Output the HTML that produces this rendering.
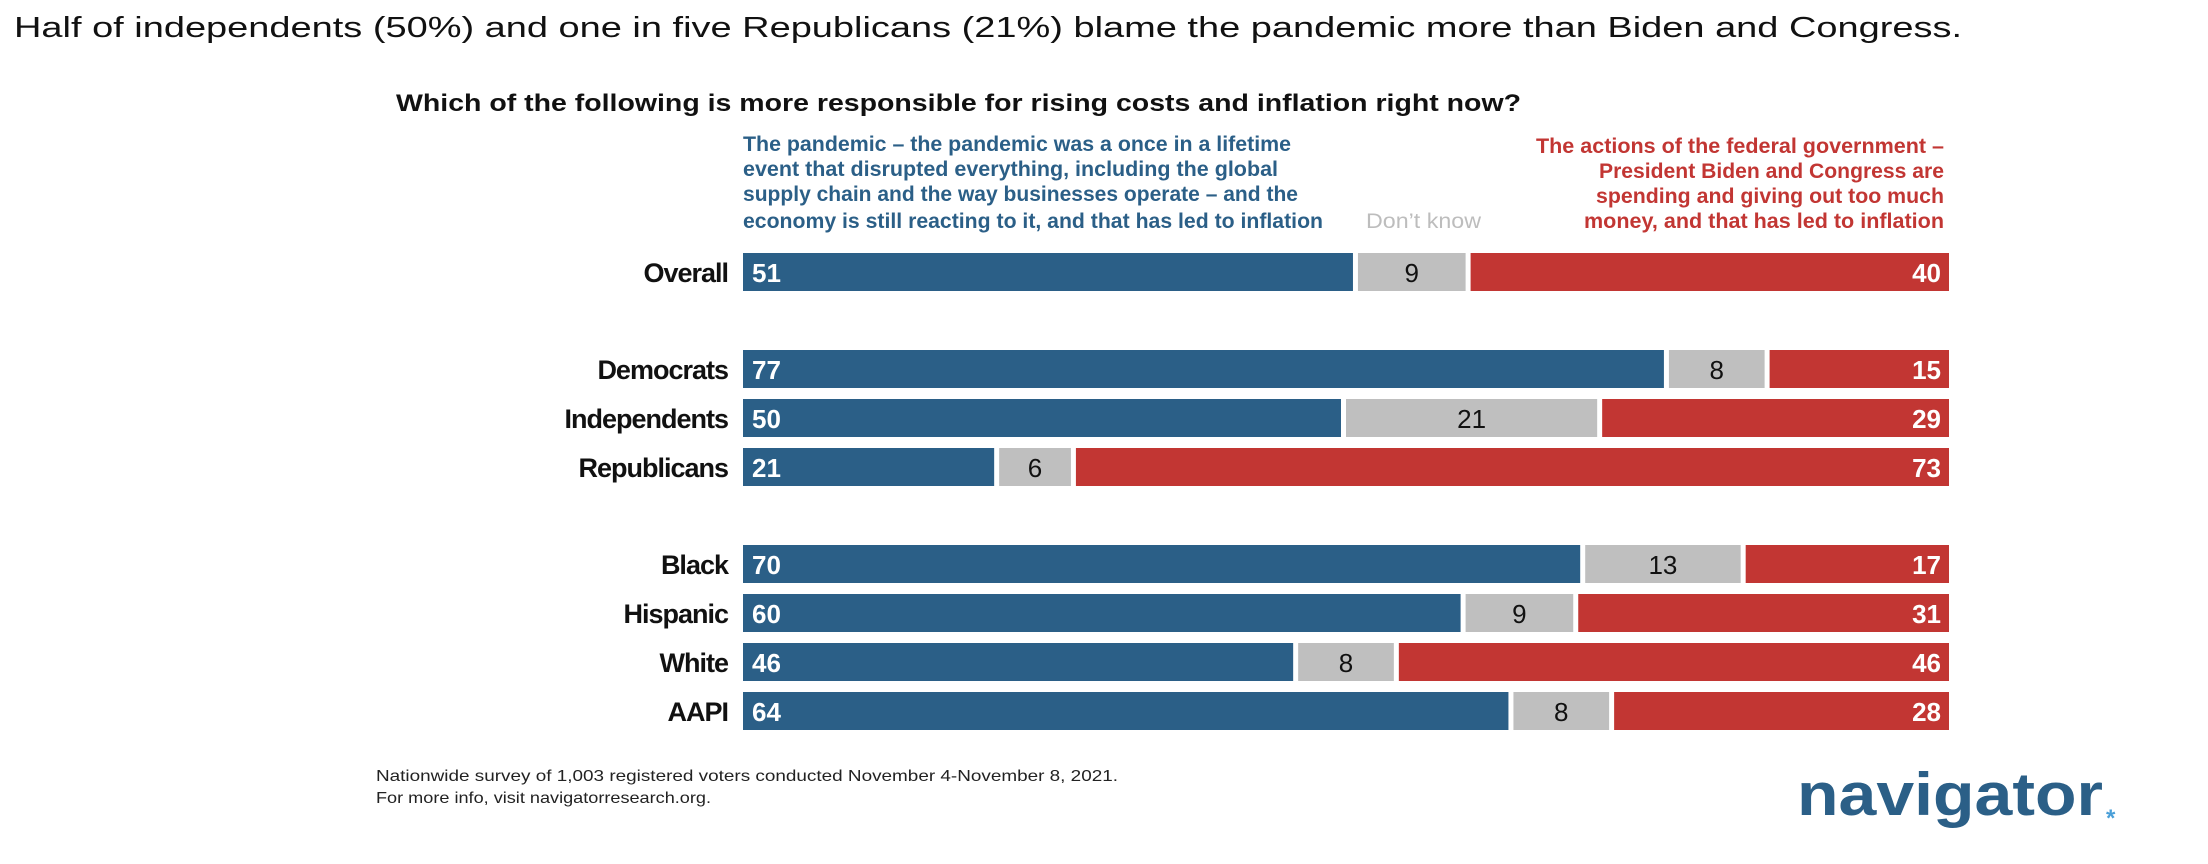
<!DOCTYPE html>
<html><head><meta charset="utf-8"><style>
html,body{margin:0;padding:0;background:#fff;}
svg{display:block;font-family:"Liberation Sans",sans-serif;}
</style></head><body>
<svg id="chart" width="2208" height="864" viewBox="0 0 2208 864">
<text x="14" y="37" font-size="29" fill="#111" textLength="1948" lengthAdjust="spacingAndGlyphs">Half of independents (50%) and one in five Republicans (21%) blame the pandemic more than Biden and Congress.</text>
<text x="396" y="111" font-size="24" font-weight="bold" fill="#111" textLength="1125" lengthAdjust="spacingAndGlyphs">Which of the following is more responsible for rising costs and inflation right now?</text>
<g fill="#2b5f87" font-size="21" font-weight="bold">
<text x="743" y="151" textLength="548" lengthAdjust="spacingAndGlyphs">The pandemic – the pandemic was a once in a lifetime</text>
<text x="743" y="176" textLength="535" lengthAdjust="spacingAndGlyphs">event that disrupted everything, including the global</text>
<text x="743" y="201" textLength="555" lengthAdjust="spacingAndGlyphs">supply chain and the way businesses operate – and the</text>
<text x="743" y="228" textLength="580" lengthAdjust="spacingAndGlyphs">economy is still reacting to it, and that has led to inflation</text>
</g>
<text x="1366" y="228" font-size="21" fill="#bdbdbd" textLength="115" lengthAdjust="spacingAndGlyphs">Don’t know</text>
<g fill="#c23633" font-size="21" font-weight="bold" text-anchor="end">
<text x="1944" y="153" textLength="408" lengthAdjust="spacingAndGlyphs">The actions of the federal government –</text>
<text x="1944" y="178" textLength="345" lengthAdjust="spacingAndGlyphs">President Biden and Congress are</text>
<text x="1944" y="203" textLength="348" lengthAdjust="spacingAndGlyphs">spending and giving out too much</text>
<text x="1944" y="228" textLength="360" lengthAdjust="spacingAndGlyphs">money, and that has led to inflation</text>
</g>
<g id="bars"></g>
<g fill="#222" font-size="16">
<text x="376" y="781" textLength="742" lengthAdjust="spacingAndGlyphs">Nationwide survey of 1,003 registered voters conducted November 4-November 8, 2021.</text>
<text x="376" y="803" textLength="335" lengthAdjust="spacingAndGlyphs">For more info, visit navigatorresearch.org.</text>
</g>
<text x="1797" y="815" font-size="60" font-weight="bold" fill="#2b5f87" textLength="306" lengthAdjust="spacingAndGlyphs">navigator</text>
<text x="2106" y="826" font-size="24" font-weight="bold" fill="#4a9fd8">*</text>
</svg>
<script>
const categories = ["Overall","Democrats","Independents","Republicans","Black","Hispanic","White","AAPI"];
const pandemicValues = [51,77,50,21,70,60,46,64];
const dontKnowValues = [9,8,21,6,13,9,8,8];
const governmentValues = [40,15,29,73,17,31,46,28];
const rowTops = [253,350,399,448,545,594,643,692];
const NS="http://www.w3.org/2000/svg";
const x0=743, x1=1949, gap=5, barH=38;
const unit=(x1-x0-2*gap)/100;
const xs=v=>v*unit;
const g=document.getElementById('bars');
function mk(tag,attrs){const e=document.createElementNS(NS,tag);for(const k in attrs)e.setAttribute(k,attrs[k]);g.appendChild(e);return e;}
categories.forEach((c,i)=>{
  const y=rowTops[i];
  const lab=mk('text',{x:728,y:y+29,'font-size':27,'font-weight':'bold','text-anchor':'end',fill:'#111','letter-spacing':'-1'});
  lab.textContent=c;
  
  
  const wb=xs(pandemicValues[i]), wg=xs(dontKnowValues[i]);
  const b=mk('rect',{x:x0,y:y,width:wb,height:barH,fill:'#2b5f87'});
  
  
  const gx=x0+wb+gap;
  const gr=mk('rect',{x:gx,y:y,width:wg,height:barH,fill:'#bfbfbf'});
  
  
  const rx=gx+wg+gap;
  const r=mk('rect',{x:rx,y:y,width:x1-rx,height:barH,fill:'#c23633'});
  
  
  const t1=mk('text',{x:x0+9,y:y+29,'font-size':26,'font-weight':'bold',fill:'#fff'});
  t1.textContent=pandemicValues[i];
  
  
  const t2=mk('text',{x:gx+wg/2,y:y+29,'font-size':26,'text-anchor':'middle',fill:'#111'});
  t2.textContent=dontKnowValues[i];
  
  
  const t3=mk('text',{x:x1-8,y:y+29,'font-size':26,'font-weight':'bold','text-anchor':'end',fill:'#fff'});
  t3.textContent=governmentValues[i];
  
  
});
</script>
</body></html>
